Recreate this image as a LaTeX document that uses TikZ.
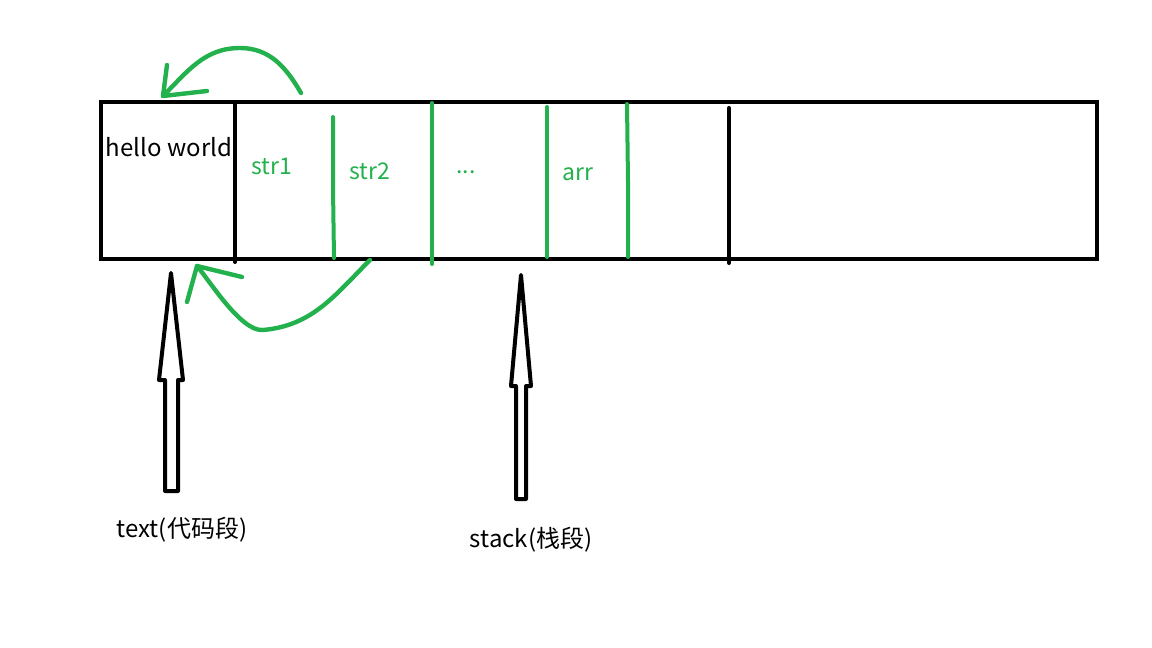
\documentclass[tikz,border=0pt]{standalone}
\usepackage{fontspec}
\setmainfont{Noto Sans CJK SC}
\definecolor{pgreen}{HTML}{22B14C}
\tikzset{
  blackline/.style={line width=2pt, draw=black},
  greenline/.style={line width=2pt, draw=pgreen, line cap=round},
  greencurve/.style={line width=2.2pt, draw=pgreen, line cap=round, line join=round},
  hollow/.style={line width=2pt, draw=black, fill=white, line join=round},
  lbl/.style={inner sep=0pt, font=\fontsize{12pt}{14pt}\selectfont},
  glbl/.style={lbl, text=pgreen, font=\fontsize{11.5pt}{14pt}\selectfont}
}
\begin{document}
\begin{tikzpicture}[x=0.5pt,y=-0.5pt]
\useasboundingbox (0,0) rectangle (1152,648);
% memory strip
\node[blackline, rectangle, minimum width=498pt, minimum height=78.5pt, inner sep=0pt] (mem) at (599,180.5) {};
% dividers
\coordinate (d1t) at (235,102); \coordinate (d1b) at (235,262);
\coordinate (d2t) at (729,108); \coordinate (d2b) at (729,263);
\draw[blackline, line cap=round] (d1t) -- (d1b);
\draw[blackline, line cap=round] (d2t) -- (d2b);
\coordinate (g1t) at (333,117); \coordinate (g1m) at (333,188); \coordinate (g1b) at (334,258);
\coordinate (g2t) at (432,103); \coordinate (g2b) at (432,264);
\coordinate (g3t) at (547,107); \coordinate (g3b) at (547,257);
\coordinate (g4t) at (627,104); \coordinate (g4m) at (628,181); \coordinate (g4b) at (628,257);
\draw[greenline] (g1t) -- (g1m) -- (g1b);
\draw[greenline] (g2t) -- (g2b);
\draw[greenline] (g3t) -- (g3b);
\draw[greenline] (g4t) -- (g4m) -- (g4b);
% texts
\node[lbl] (hw) at (169,147) {hello world};
\node[glbl] (s1) at (272,166) {str1};
\node[glbl] (s2) at (370,171) {str2};
\node[glbl] (dots) at (466,172) {...};
\node[glbl] (arr) at (578,174) {arr};
% top green arrow
\coordinate (ta) at (301,93);
\coordinate (tp) at (240,48);
\coordinate (tt) at (163,96);
\coordinate (th1) at (167,65);
\coordinate (th2) at (207,91);
\draw[greencurve] (ta) to[out=120,in=0] (tp) to[out=180,in=45] (tt);
\draw[greencurve] (th1) -- (tt) -- (th2);
% bottom green arrow
\coordinate (ba) at (370,260);
\coordinate (bp) at (263,330);
\coordinate (bt) at (197,266);
\coordinate (bh1) at (187,302);
\coordinate (bh2) at (242,277);
\draw[greencurve] (ba) to[out=-135,in=5] (bp) to[out=185,in=-50,looseness=0.6] (bt);
\draw[greencurve] (bh1) -- (bt) -- (bh2);
% hollow arrows
\coordinate (a1tip) at (171,273);
\draw[hollow] (a1tip) -- (183,380) -- (178,380) -- (178,491) -- (165,491) -- (165,380) -- (159,380) -- cycle;
\coordinate (a2tip) at (521,275);
\draw[hollow] (a2tip) -- (531,386) -- (526,386) -- (526,499) -- (516,499) -- (516,386) -- (511,386) -- cycle;
% labels
\node[lbl] (tl) at (182,530) {text(代码段)};
\node[lbl] (sl) at (531,540) {stack(栈段)};
\end{tikzpicture}
\end{document}
